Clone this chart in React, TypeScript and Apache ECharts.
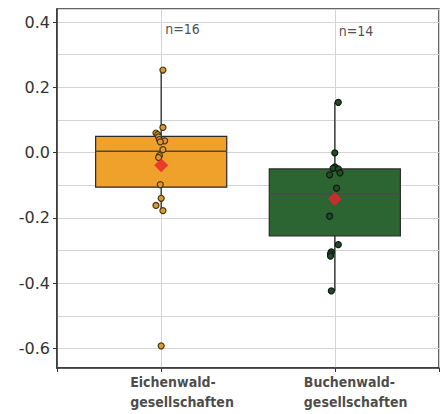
import React, { useEffect, useRef } from "react";
import * as echarts from "echarts";

const categories = ["Eichenwald-\ngesellschaften", "Buchenwald-\ngesellschaften"];
const categoryX = [1, 2];
const boxColors = ["#F0A12C", "#2C6432"];
const pointFill = ["#D99A2E", "#244A27"];
const pointBorder = ["#4A3510", "#0E1A0F"];

// [whiskerLow, Q1, median, Q3, whiskerHigh]
const boxStats = [
  [-0.178, -0.106, 0.004, 0.05, 0.253],
  [-0.424, -0.255, -0.126, -0.05, 0.154],
];
const means = [-0.039, -0.142];

const eichenValues = [0.253, 0.077, 0.06, 0.055, 0.048, 0.04, 0.036, 0.033, 0.009, -0.009, -0.015, -0.098, -0.14, -0.162, -0.178, -0.592];
const eichenJitter = [0.01, 0.01, -0.03, -0.02, -0.015, -0.01, 0.02, -0.005, 0.01, -0.01, -0.015, -0.005, 0, -0.03, 0.01, 0];
const buchenValues = [0.154, -0.001, -0.044, -0.048, -0.05, -0.062, -0.068, -0.109, -0.195, -0.282, -0.304, -0.31, -0.317, -0.424];
const buchenJitter = [0.02, 0, 0, -0.01, 0.02, 0.03, -0.03, 0.01, -0.03, 0.02, -0.02, -0.025, -0.025, -0.02];

const yTickLabels = ["-0.6", "-0.4", "-0.2", "0.0", "0.2", "0.4"];
const nLabelY = [0.379, 0.373];

const Y_MIN = -0.66;
const Y_MAX = 0.44;
const BOX_WIDTH = 0.755;
const CONDENSED = "'DejaVu Sans Condensed', 'Liberation Sans Narrow', Roboto, sans-serif";

export default function App() {
  const ref = useRef<HTMLDivElement>(null);
  useEffect(() => {
    if (!ref.current) return;
    const chart = echarts.init(ref.current, null, { renderer: "svg" });
    const groups = [
      { values: eichenValues, jitter: eichenJitter },
      { values: buchenValues, jitter: buchenJitter },
    ];
    const option: any = {
      animation: false,
      backgroundColor: "#ffffff",
      grid: { left: 57, right: 4, top: 9, bottom: 46, show: true, borderColor: "#333", borderWidth: 1.5, backgroundColor: "transparent" },
      xAxis: {
        type: "value",
        min: 0.4,
        max: 2.6,
        splitNumber: 2,
        axisLine: { show: true, onZero: false, lineStyle: { color: "#333", width: 1.5 } },
        axisTick: { show: true, length: 4, lineStyle: { color: "#333" } },
        splitLine: { show: true, lineStyle: { color: "#d4d4d4", width: 1 } },
        axisLabel: { show: false },
      },
      yAxis: {
        type: "value",
        min: Y_MIN,
        max: Y_MAX,
        splitNumber: 5,
        axisLine: { show: true, onZero: false, lineStyle: { color: "#333", width: 1.5 } },
        axisTick: { show: true, length: 4, lineStyle: { color: "#333" } },
        splitLine: { show: true, lineStyle: { color: "#d4d4d4", width: 1 } },
        minorTick: { show: false, splitNumber: 2 },
        minorSplitLine: { show: true, lineStyle: { color: "#d4d4d4", width: 1 } },
        axisLabel: {
          margin: 7,
          fontSize: 16,
          color: "#333",
          fontFamily: "'DejaVu Sans', sans-serif",
          showMinLabel: false,
          showMaxLabel: false,
          formatter: (v: number) => {
            const s = (Math.round(v * 10) / 10).toFixed(1);
            return yTickLabels.indexOf(s) >= 0 ? s : "";
          },
        },
      },
      series: [
        {
          type: "custom",
          data: boxStats.map((s, i) => [categoryX[i], ...s]),
          z: 2,
          renderItem: (params: any, api: any) => {
            const x = api.value(0);
            const lo = api.coord([x, api.value(1)]);
            const q1 = api.coord([x, api.value(2)]);
            const med = api.coord([x, api.value(3)]);
            const q3 = api.coord([x, api.value(4)]);
            const hi = api.coord([x, api.value(5)]);
            const halfW = api.size([BOX_WIDTH, 0])[0] / 2;
            const color = boxColors[params.dataIndex];
            return {
              type: "group",
              children: [
                { type: "line", shape: { x1: lo[0], y1: lo[1], x2: hi[0], y2: hi[1] }, style: { stroke: "#2a2a2a", lineWidth: 1.3 } },
                { type: "rect", shape: { x: q3[0] - halfW, y: q3[1], width: 2 * halfW, height: q1[1] - q3[1] }, style: { fill: color, stroke: "#2a2a2a", lineWidth: 1.2 } },
                { type: "line", shape: { x1: med[0] - halfW, y1: med[1], x2: med[0] + halfW, y2: med[1] }, style: { stroke: "#4a4a4a", lineWidth: 1.5 } },
              ],
            };
          },
        },
        ...groups.map((g, gi) => ({
          type: "scatter",
          z: 3,
          symbol: "circle",
          symbolSize: 6,
          itemStyle: { color: pointFill[gi], borderColor: pointBorder[gi], borderWidth: 1.2, opacity: 1 },
          data: g.values.map((v, i) => [categoryX[gi] + g.jitter[i], v]),
        })),
        {
          type: "scatter",
          z: 4,
          symbol: "diamond",
          symbolSize: 14,
          itemStyle: { color: "#E8232A" },
          data: means.map((m, i) => [categoryX[i], m]),
        },
        {
          type: "scatter",
          z: 5,
          symbolSize: 0,
          silent: true,
          data: groups.map((g, i) => ({ value: [categoryX[i], nLabelY[i]], n: g.values.length })),
          label: {
            show: true,
            position: "right",
            distance: 4,
            fontSize: 14,
            color: "#222",
            fontFamily: CONDENSED,
            formatter: (p: any) => "n=" + p.data.n,
          },
        },
        {
          type: "scatter",
          z: 5,
          symbolSize: 0,
          silent: true,
          clip: false,
          data: categories.map((c, i) => ({ value: [categoryX[i], Y_MIN], name: c })),
          label: {
            show: true,
            position: "bottom",
            distance: 0,
            align: "left",
            offset: [-31, 4],
            fontSize: 14,
            fontWeight: "bold",
            lineHeight: 20,
            color: "#1a1a1a",
            fontFamily: CONDENSED,
            formatter: (p: any) => p.data.name,
          },
        },
      ],
    };
    chart.setOption(option);
    return () => chart.dispose();
  }, []);
  return <div ref={ref} style={{ position: "fixed", left: 0, top: 0, width: 443, height: 414 }} />;
}
